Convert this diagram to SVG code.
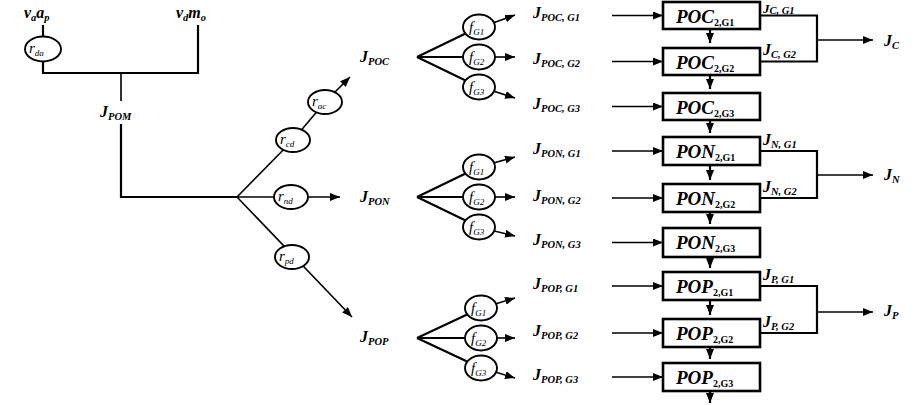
<svg xmlns="http://www.w3.org/2000/svg" width="922" height="405" viewBox="0 0 922 405">
<style>
text{font-family:"Liberation Serif","Times New Roman",serif;font-weight:bold;font-style:italic;fill:#000}
.j{font-size:16px}
.s{font-size:10.5px}
.bx{font-size:19px}
.bs{font-size:10px;font-style:normal}
.r{font-size:15px;font-weight:normal}
.rs{font-size:9px;font-weight:normal}
.ln{stroke:#000;stroke-width:1.6;fill:none}
.th{stroke:#000;stroke-width:2.2;fill:none}
.box{fill:#fff;stroke:#000;stroke-width:2.6}
.el{fill:#fff;stroke:#000;stroke-width:1.9}
</style>
<defs>
<marker id="ah" markerUnits="userSpaceOnUse" markerWidth="10" markerHeight="8" refX="10" refY="4" orient="auto">
<path d="M0,0 L10,4 L0,8 z" fill="#000"/>
</marker>
</defs>
<rect width="922" height="405" fill="#fff"/>
<g id="connectors">
<path class="th" d="M43,25 V73 H198 V25"/>
<path class="ln" d="M121,73 V101"/>
<path class="th" d="M121,124 V197 H237"/>
<path class="ln" d="M237,197 L293,140 L325,102 L350,77" marker-end="url(#ah)"/>
<path class="ln" d="M237,197 L340,197" marker-end="url(#ah)"/>
<path class="ln" d="M237,197 L352,317" marker-end="url(#ah)"/>
<path class="th" d="M417,57 L479,27 M417,57 L479,57 M417,57 L479,87"/>
<path class="ln" d="M490,24 L515,15" marker-end="url(#ah)"/>
<path class="ln" d="M490,57 L515,57" marker-end="url(#ah)"/>
<path class="ln" d="M490,90 L515,98" marker-end="url(#ah)"/>
<path class="th" d="M417,197 L479,167 M417,197 L479,197 M417,197 L479,227"/>
<path class="ln" d="M490,164 L515,157" marker-end="url(#ah)"/>
<path class="ln" d="M490,197 L515,197" marker-end="url(#ah)"/>
<path class="ln" d="M490,230 L515,236" marker-end="url(#ah)"/>
<path class="th" d="M417,338 L481,308 M417,338 L481,338 M417,338 L481,368"/>
<path class="ln" d="M492,305 L515,298" marker-end="url(#ah)"/>
<path class="ln" d="M492,338 L515,338" marker-end="url(#ah)"/>
<path class="ln" d="M492,371 L515,378" marker-end="url(#ah)"/>
<path class="ln" d="M612,15.5 H663" marker-end="url(#ah)"/>
<path class="ln" d="M612,61.5 H663" marker-end="url(#ah)"/>
<path class="ln" d="M612,106.5 H663" marker-end="url(#ah)"/>
<path class="ln" d="M612,151 H663" marker-end="url(#ah)"/>
<path class="ln" d="M612,198 H663" marker-end="url(#ah)"/>
<path class="ln" d="M612,242.5 H663" marker-end="url(#ah)"/>
<path class="ln" d="M612,286 H663" marker-end="url(#ah)"/>
<path class="ln" d="M612,333 H663" marker-end="url(#ah)"/>
<path class="ln" d="M612,377 H663" marker-end="url(#ah)"/>
<path class="th" d="M710,29 V43" marker-end="url(#ah)"/>
<path class="th" d="M710,75 V89" marker-end="url(#ah)"/>
<path class="th" d="M710,120 V133" marker-end="url(#ah)"/>
<path class="th" d="M710,165 V180" marker-end="url(#ah)"/>
<path class="th" d="M710,212 V224" marker-end="url(#ah)"/>
<path class="th" d="M710,257 V268" marker-end="url(#ah)"/>
<path class="th" d="M710,300 V315" marker-end="url(#ah)"/>
<path class="th" d="M710,347 V359" marker-end="url(#ah)"/>
<path class="th" d="M710,391 V403" marker-end="url(#ah)"/>
<path class="th" d="M760,15.5 H817 V61.5 H760"/>
<path class="ln" d="M817,40 H873" marker-end="url(#ah)"/>
<path class="th" d="M760,151 H817 V198 H760"/>
<path class="ln" d="M817,175 H873" marker-end="url(#ah)"/>
<path class="th" d="M760,286 H817 V333 H760"/>
<path class="ln" d="M817,312 H873" marker-end="url(#ah)"/>
</g>
<g id="src-vaap"><text class="j" x="24" y="18" font-size="14">v<tspan class="s" dy="3">a</tspan><tspan dy="-3">a</tspan><tspan class="s" dy="3">p</tspan></text></g>
<g id="src-vdmo"><text class="j" x="176" y="18" font-size="14">v<tspan class="s" dy="3">d</tspan><tspan dy="-3">m</tspan><tspan class="s" dy="3">o</tspan></text></g>
<g id="r-da"><ellipse class="el" cx="43" cy="49" rx="18" ry="12.5"/><text class="r" x="29" y="53">r<tspan class="rs" dy="3">da</tspan></text></g>
<g id="J-POM"><text class="j" x="100" y="117">J<tspan class="s" dy="3">POM</tspan></text></g>
<g id="r-cd"><ellipse class="el" cx="293" cy="140" rx="17" ry="12"/><text class="r" x="280" y="144">r<tspan class="rs" dy="3">cd</tspan></text></g>
<g id="r-ac"><ellipse class="el" cx="325" cy="102" rx="17" ry="12"/><text class="r" x="312" y="106">r<tspan class="rs" dy="3">ac</tspan></text></g>
<g id="r-nd"><ellipse class="el" cx="291" cy="197" rx="17" ry="12"/><text class="r" x="278" y="201">r<tspan class="rs" dy="3">nd</tspan></text></g>
<g id="r-pd"><ellipse class="el" cx="292" cy="257" rx="17" ry="12"/><text class="r" x="279" y="261">r<tspan class="rs" dy="3">pd</tspan></text></g>
<g id="J-POC"><text class="j" x="360" y="62">J<tspan class="s" dy="3">POC</tspan></text></g>
<g id="J-PON"><text class="j" x="360" y="202">J<tspan class="s" dy="3">PON</tspan></text></g>
<g id="J-POP"><text class="j" x="360" y="342">J<tspan class="s" dy="3">POP</tspan></text></g>
<g id="f-POC-G1"><ellipse class="el" cx="479" cy="27" rx="16" ry="12.5"/><text class="r" x="469" y="32">f<tspan class="rs" dy="3">G1</tspan></text></g>
<g id="f-POC-G2"><ellipse class="el" cx="479" cy="57" rx="16" ry="12.5"/><text class="r" x="469" y="62">f<tspan class="rs" dy="3">G2</tspan></text></g>
<g id="f-POC-G3"><ellipse class="el" cx="479" cy="87" rx="16" ry="12.5"/><text class="r" x="469" y="92">f<tspan class="rs" dy="3">G3</tspan></text></g>
<g id="f-PON-G1"><ellipse class="el" cx="479" cy="167" rx="16" ry="12.5"/><text class="r" x="469" y="172">f<tspan class="rs" dy="3">G1</tspan></text></g>
<g id="f-PON-G2"><ellipse class="el" cx="479" cy="197" rx="16" ry="12.5"/><text class="r" x="469" y="202">f<tspan class="rs" dy="3">G2</tspan></text></g>
<g id="f-PON-G3"><ellipse class="el" cx="479" cy="227" rx="16" ry="12.5"/><text class="r" x="469" y="232">f<tspan class="rs" dy="3">G3</tspan></text></g>
<g id="f-POP-G1"><ellipse class="el" cx="481" cy="308" rx="16" ry="12.5"/><text class="r" x="471" y="313">f<tspan class="rs" dy="3">G1</tspan></text></g>
<g id="f-POP-G2"><ellipse class="el" cx="481" cy="338" rx="16" ry="12.5"/><text class="r" x="471" y="343">f<tspan class="rs" dy="3">G2</tspan></text></g>
<g id="f-POP-G3"><ellipse class="el" cx="481" cy="368" rx="16" ry="12.5"/><text class="r" x="471" y="373">f<tspan class="rs" dy="3">G3</tspan></text></g>
<g id="J-POC-G1"><text class="j" x="533" y="18">J<tspan class="s" dy="3">POC, G1</tspan></text></g>
<g id="J-POC-G2"><text class="j" x="533" y="64">J<tspan class="s" dy="3">POC, G2</tspan></text></g>
<g id="J-POC-G3"><text class="j" x="533" y="109">J<tspan class="s" dy="3">POC, G3</tspan></text></g>
<g id="J-PON-G1"><text class="j" x="533" y="154">J<tspan class="s" dy="3">PON, G1</tspan></text></g>
<g id="J-PON-G2"><text class="j" x="533" y="201">J<tspan class="s" dy="3">PON, G2</tspan></text></g>
<g id="J-PON-G3"><text class="j" x="533" y="245">J<tspan class="s" dy="3">PON, G3</tspan></text></g>
<g id="J-POP-G1"><text class="j" x="533" y="289">J<tspan class="s" dy="3">POP, G1</tspan></text></g>
<g id="J-POP-G2"><text class="j" x="533" y="336">J<tspan class="s" dy="3">POP, G2</tspan></text></g>
<g id="J-POP-G3"><text class="j" x="533" y="380">J<tspan class="s" dy="3">POP, G3</tspan></text></g>
<g id="POC-G1"><rect class="box" x="663" y="2" width="97" height="27"/><text class="bx" x="676" y="23">POC<tspan class="bs" dy="3">2,G1</tspan></text></g>
<g id="POC-G2"><rect class="box" x="663" y="48" width="97" height="27"/><text class="bx" x="676" y="69">POC<tspan class="bs" dy="3">2,G2</tspan></text></g>
<g id="POC-G3"><rect class="box" x="663" y="93" width="97" height="27"/><text class="bx" x="676" y="114">POC<tspan class="bs" dy="3">2,G3</tspan></text></g>
<g id="PON-G1"><rect class="box" x="663" y="137" width="97" height="28"/><text class="bx" x="676" y="158">PON<tspan class="bs" dy="3">2,G1</tspan></text></g>
<g id="PON-G2"><rect class="box" x="663" y="184" width="97" height="28"/><text class="bx" x="676" y="205">PON<tspan class="bs" dy="3">2,G2</tspan></text></g>
<g id="PON-G3"><rect class="box" x="663" y="228" width="97" height="29"/><text class="bx" x="676" y="249">PON<tspan class="bs" dy="3">2,G3</tspan></text></g>
<g id="POP-G1"><rect class="box" x="663" y="272" width="97" height="28"/><text class="bx" x="676" y="293">POP<tspan class="bs" dy="3">2,G1</tspan></text></g>
<g id="POP-G2"><rect class="box" x="663" y="319" width="97" height="28"/><text class="bx" x="676" y="340">POP<tspan class="bs" dy="3">2,G2</tspan></text></g>
<g id="POP-G3"><rect class="box" x="663" y="363" width="97" height="28"/><text class="bx" x="676" y="384">POP<tspan class="bs" dy="3">2,G3</tspan></text></g>
<g id="J-C-G1"><text class="j" x="763" y="13" font-size="13" style="font-size:13px">J<tspan class="s" dy="1">C, G1</tspan></text></g>
<g id="J-C-G2"><text class="j" x="763" y="55">J<tspan class="s" dy="3">C, G2</tspan></text></g>
<g id="J-N-G1"><text class="j" x="763" y="145">J<tspan class="s" dy="3">N, G1</tspan></text></g>
<g id="J-N-G2"><text class="j" x="763" y="192">J<tspan class="s" dy="3">N, G2</tspan></text></g>
<g id="J-P-G1"><text class="j" x="763" y="280">J<tspan class="s" dy="3">P, G1</tspan></text></g>
<g id="J-P-G2"><text class="j" x="763" y="327">J<tspan class="s" dy="3">P, G2</tspan></text></g>
<g id="J-C"><text class="j" x="884" y="46">J<tspan class="s" dy="3">C</tspan></text></g>
<g id="J-N"><text class="j" x="884" y="180">J<tspan class="s" dy="3">N</tspan></text></g>
<g id="J-P"><text class="j" x="884" y="316">J<tspan class="s" dy="3">P</tspan></text></g>
</svg>
